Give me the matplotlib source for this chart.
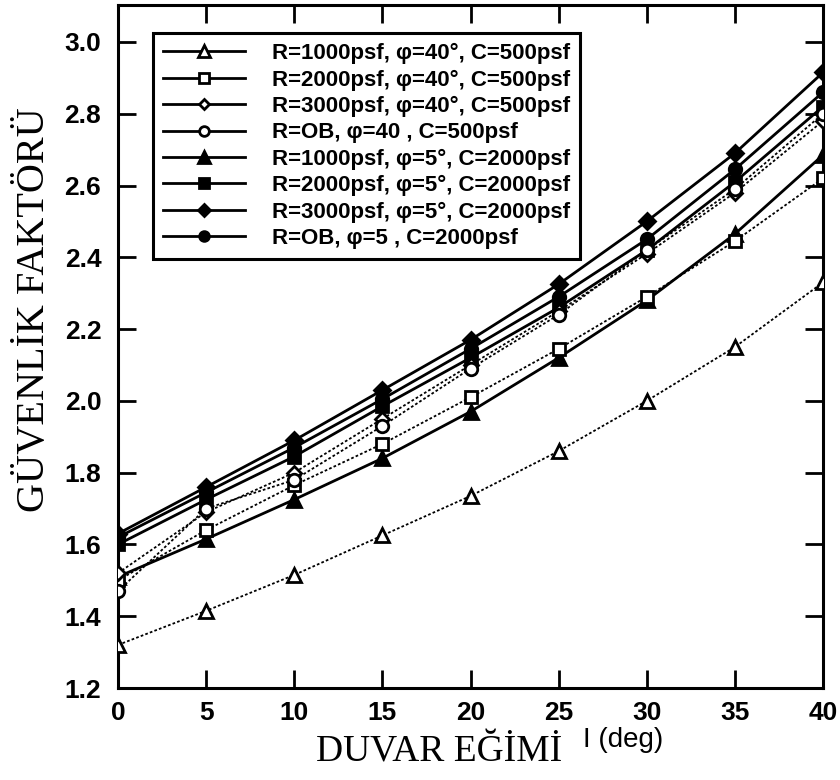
import matplotlib
matplotlib.use('Agg')
import matplotlib.pyplot as plt
from matplotlib.lines import Line2D

# wall inclination (deg)
egim = [0, 5, 10, 15, 20, 25, 30, 35, 40]

# phi = 40, C = 500 psf (open markers, dotted)
r1000_f40 = [1.32, 1.415, 1.515, 1.625, 1.735, 1.86, 2.00, 2.15, 2.33]
r2000_f40 = [1.50, 1.64, 1.765, 1.88, 2.01, 2.145, 2.29, 2.445, 2.62]
r3000_f40 = [1.52, 1.69, 1.80, 1.95, 2.10, 2.25, 2.41, 2.58, 2.78]
rob_f40 = [1.47, 1.70, 1.78, 1.93, 2.09, 2.24, 2.42, 2.59, 2.80]

# phi = 5, C = 2000 psf (filled markers, solid)
r1000_f5 = [1.51, 1.615, 1.725, 1.84, 1.97, 2.12, 2.28, 2.465, 2.685]
r2000_f5 = [1.60, 1.725, 1.845, 1.985, 2.12, 2.26, 2.42, 2.61, 2.82]
r3000_f5 = [1.63, 1.76, 1.89, 2.03, 2.17, 2.325, 2.50, 2.69, 2.915]
rob_f5 = [1.62, 1.745, 1.87, 2.005, 2.145, 2.29, 2.45, 2.645, 2.86]

labels = [
    'R=1000psf, φ=40°, C=500psf',
    'R=2000psf, φ=40°, C=500psf',
    'R=3000psf, φ=40°, C=500psf',
    'R=OB, φ=40 , C=500psf',
    'R=1000psf, φ=5°, C=2000psf',
    'R=2000psf, φ=5°, C=2000psf',
    'R=3000psf, φ=5°, C=2000psf',
    'R=OB, φ=5 , C=2000psf',
]
series = [r1000_f40, r2000_f40, r3000_f40, rob_f40,
          r1000_f5, r2000_f5, r3000_f5, rob_f5]
markers = ['^', 's', 'D', 'o', '^', 's', 'D', 'o']
msizes = [10, 9, 7, 9, 10, 9, 8, 9]

xticks = [0, 5, 10, 15, 20, 25, 30, 35, 40]
yticks = [1.2, 1.4, 1.6, 1.8, 2.0, 2.2, 2.4, 2.6, 2.8, 3.0]

fig = plt.figure(figsize=(8.4, 7.8), dpi=100)
ax = fig.add_axes([118 / 840, 92 / 780, 705 / 840, 683 / 780])

handles = []
for i, (y, m, ms, lab) in enumerate(zip(series, markers, msizes, labels)):
    opened = i < 4
    ax.plot(egim, y, color='black',
            linestyle=(0, (1.5, 1.2)) if opened else '-',
            linewidth=1.3 if opened else 2.0,
            marker=m, markersize=ms, markeredgewidth=2,
            markerfacecolor='white' if opened else 'black',
            markeredgecolor='black', zorder=3 if opened else 2)
    handles.append(Line2D([], [], color='black', linestyle='-', linewidth=2,
                          marker=m, markersize=ms - 2, markeredgewidth=2,
                          markerfacecolor='white' if opened else 'black',
                          markeredgecolor='black', label=lab))

ax.set_xlim(0, 40)
ax.set_ylim(1.2, 3.103)
ax.set_xticks(xticks)
ax.set_yticks(yticks)
ax.set_yticklabels(['%.1f' % v for v in yticks])
ax.tick_params(direction='in', length=13, width=2, top=True, right=True,
               labelsize=19)
ax.tick_params(axis='y', pad=12)
ax.tick_params(axis='x', pad=9)
for t in ax.get_xticklabels() + ax.get_yticklabels():
    t.set_fontfamily('Liberation Sans')
    t.set_fontweight('bold')
for s in ax.spines.values():
    s.set_linewidth(2.2)

leg = ax.legend(handles=handles, loc='upper left',
                bbox_to_anchor=(0.05, 0.959), borderaxespad=0,
                fancybox=False, edgecolor='black', framealpha=1,
                handlelength=3.7, handletextpad=1.2, labelspacing=0.24,
                borderpad=0.45,
                prop={'family': 'Liberation Sans', 'weight': 'bold', 'size': 16})
leg.get_frame().set_linewidth(2.2)

fig.text(35 / 840, 1 - 310 / 780, 'GÜVENLİK FAKTÖRÜ', rotation=90,
         ha='center', va='center', family='Liberation Serif', fontsize=29)
fig.text(316 / 840, 18 / 780, 'DUVAR EĞİMİ', ha='left', va='baseline',
         family='Liberation Serif', fontsize=27)
fig.text(583 / 840, 33 / 780, 'I (deg)', ha='left', va='baseline',
         family='Liberation Sans', fontsize=20)

fig.savefig('out.png', dpi=100)
